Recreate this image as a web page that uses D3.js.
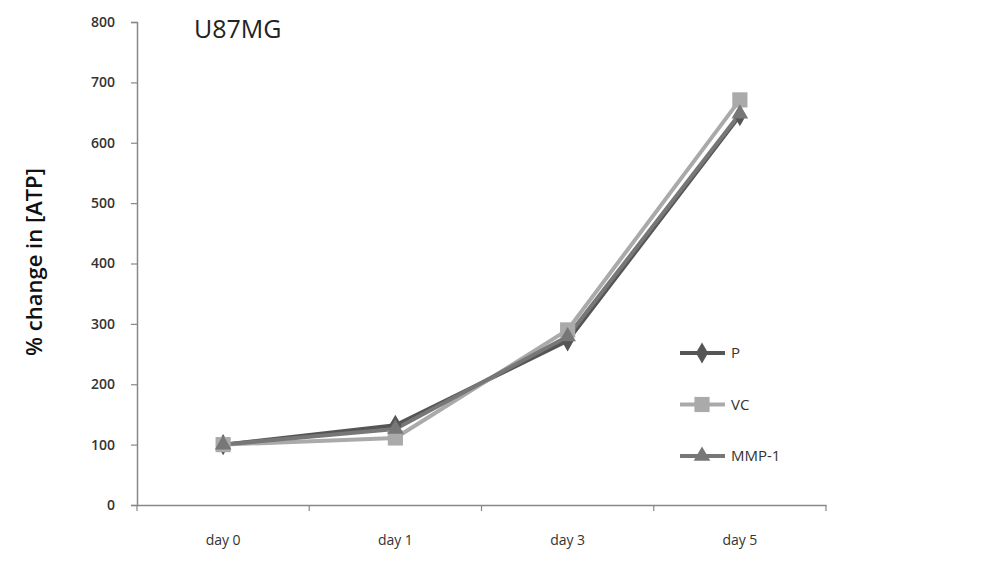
<!DOCTYPE html>
<html><head><meta charset="utf-8">
<script src="https://cdn.jsdelivr.net/npm/d3@7"></script>
<style>body{margin:0;background:#fff;}svg{display:block;font-family:"Open Sans",sans-serif;}</style>
</head><body><svg id="c" width="984" height="579"></svg>
<script>
const categories = ["day 0", "day 1", "day 3", "day 5"];
const seriesNames = ["P", "VC", "MMP-1"];
const valuesP = [100, 132, 272, 645];
const valuesVC = [100, 111, 290, 671];
const valuesMMP1 = [100, 126, 279, 648];
const yTicks = [0, 100, 200, 300, 400, 500, 600, 700, 800];

const svg = d3.select("#c");
const m = {l:137, r:826, t:22, b:505};
const x = d3.scaleBand().domain(categories).range([m.l, m.r]);
const y = d3.scaleLinear().domain([0, 800]).range([m.b, m.t]);

const series = [
  {name:"P", values:valuesP, color:"#555555", shape:d3.symbolDiamond, size:130},
  {name:"VC", values:valuesVC, color:"#aaaaaa", shape:d3.symbolSquare, size:230},
  {name:"MMP-1", values:valuesMMP1, color:"#777777", shape:d3.symbolTriangle, size:120}
];

// axes
const yAxis = d3.axisLeft(y).tickValues(yTicks).tickSize(6).tickPadding(16);
const gy = svg.append("g").attr("transform",`translate(${m.l},0)`).call(yAxis);
gy.select(".domain").attr("stroke","#888").attr("stroke-width",1.5);
gy.selectAll(".tick line").attr("stroke","#888").attr("stroke-width",1.2);
gy.selectAll(".tick text").attr("fill","#333").style("font-size","14px").style("font-weight","600").style("font-family","Open Sans");

const xAxis = d3.axisBottom(x).tickSize(0).tickPadding(30);
const gx = svg.append("g").attr("transform",`translate(0,${m.b})`).call(xAxis);
gx.select(".domain").attr("stroke","#888").attr("stroke-width",1.5);
gx.selectAll(".tick text").attr("fill","#333").style("font-size","14px").style("font-family","Open Sans");
// band boundary ticks
const bounds = categories.map(c => x(c)).concat([x(categories[categories.length-1]) + x.bandwidth()]);
svg.append("g").selectAll("line").data(bounds).join("line")
  .attr("x1",d=>d).attr("x2",d=>d).attr("y1",m.b).attr("y2",m.b+6)
  .attr("stroke","#888").attr("stroke-width",1.2);

const line = d3.line().x((d,i)=>x(categories[i])+x.bandwidth()/2).y(d=>y(d));

series.forEach(s => {
  svg.append("path").datum(s.values).attr("d", line)
    .attr("fill","none").attr("stroke", s.color).attr("stroke-width",4).attr("stroke-linejoin","round");
});
series.forEach(s => {
  svg.append("g").selectAll("path").data(s.values).join("path")
    .attr("d", d3.symbol().type(s.shape).size(s.size))
    .attr("transform",(d,i)=>`translate(${x(categories[i])+x.bandwidth()/2},${y(d)})`)
    .attr("fill", s.color);
});

// legend
const lg = svg.append("g");
series.forEach((s,i) => {
  const ly = 353 + i*51.5;
  lg.append("line").attr("x1",680).attr("x2",725).attr("y1",ly).attr("y2",ly)
    .attr("stroke",s.color).attr("stroke-width",4);
  lg.append("path").attr("d", d3.symbol().type(s.shape).size(s.size))
    .attr("transform",`translate(702,${ly})`).attr("fill",s.color);
  lg.append("text").attr("x",731).attr("y",ly+5).text(s.name)
    .attr("fill","#333").style("font-size","15px");
});

// title
svg.append("text").attr("x",194).attr("y",38).text("U87MG")
  .attr("fill","#222").style("font-size","25px");

// y label
svg.append("text").attr("transform","translate(42,262) rotate(-90)")
  .attr("text-anchor","middle").text("% change in [ATP]")
  .attr("fill","#111").style("font-size","22px").style("font-weight","600");
</script></body></html>
